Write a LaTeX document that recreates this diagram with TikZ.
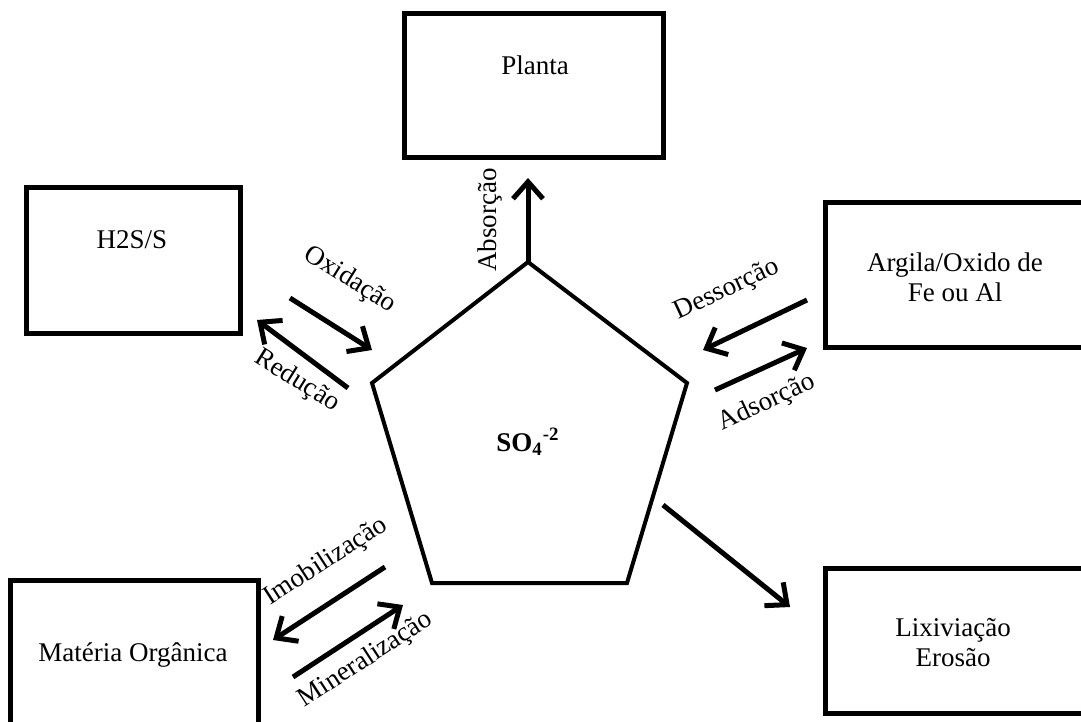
\documentclass[tikz,border=0pt]{standalone}
\usepackage{fontspec}
\setmainfont{Liberation Serif}
\usetikzlibrary{arrows.meta}

\begin{document}
\begin{tikzpicture}[x=0.5pt,y=-0.5pt,
  box/.style={draw,line width=2.5pt,inner sep=0pt},
  seta/.style={line width=2.5pt,-{Straight Barb[length=8.5pt,width=15pt]}},
  txt/.style={font=\fontsize{13.5}{15}\selectfont,align=center,inner sep=0pt}]
\useasboundingbox (0,0) rectangle (1081,722);
\clip (0,0) rectangle (1081,722);

% caixas
\node[box,minimum width=129.5pt,minimum height=71.5pt] (planta)  at (533.5,85.5) {};
\node[box,minimum width=107pt,minimum height=73pt]     (hs)      at (133,260) {};
\node[box,minimum width=135pt,minimum height=72.5pt]   (argila)  at (960,274.5) {};
\node[box,minimum width=124pt,minimum height=72.5pt]   (materia) at (134,652.5) {};
\node[box,minimum width=135pt,minimum height=72.5pt]   (lixi)    at (960,640.5) {};

\node[txt] (plantatxt)  at (535,65)  {Planta};
\node[txt] (hstxt)      at (132,240) {H2S/S};
\node[txt] (argilatxt)  at (955,277) {Argila/Oxido de\\Fe ou Al};
\node[txt] (materiatxt) at (133,655) {Matéria Orgânica};
\node[txt] (lixitxt)    at (953,643) {Lixiviação\\Erosão};

% pentagono
\coordinate (p1) at (528,262);
\coordinate (p2) at (687,383);
\coordinate (p3) at (627,583);
\coordinate (p4) at (432,583);
\coordinate (p5) at (372,383);
\draw[line width=2pt] (p1) -- (p2) -- (p3) -- (p4) -- (p5) -- cycle;
\node[txt,font=\fontsize{13.5}{15}\selectfont\bfseries] (so4) at (528,442) {SO\textsubscript{4}\textsuperscript{-2}};

% setas
\coordinate (ab) at (528,178);
\draw[seta] (p1) -- (ab);
\node[txt,rotate=90] (abtxt) at (490,220) {Absorção};

\coordinate (ox1) at (290,298); \coordinate (ox2) at (372,350);
\draw[seta] (ox1) -- (ox2);
\node[txt,rotate=-32] (oxtxt) at (350,280) {Oxidação};

\coordinate (re1) at (348,388); \coordinate (re2) at (257,320);
\draw[seta] (re1) -- (re2);
\node[txt,rotate=-32] (retxt) at (297,381) {Redução};

\coordinate (de1) at (807,300); \coordinate (de2) at (703,350);
\draw[seta] (de1) -- (de2);
\node[txt,rotate=25] (detxt) at (727,290) {Dessorção};

\coordinate (ad1) at (715,390); \coordinate (ad2) at (807,348);
\draw[seta] (ad1) -- (ad2);
\node[txt,rotate=25] (adtxt) at (767,403) {Adsorção};

\coordinate (im1) at (385,567); \coordinate (im2) at (273,640);
\draw[seta] (im1) -- (im2);
\node[txt,rotate=33] (imtxt) at (326,562) {Imobilização};

\coordinate (mi1) at (293,677); \coordinate (mi2) at (403,605);
\draw[seta] (mi1) -- (mi2);
\node[txt,rotate=33] (mitxt) at (366,660) {Mineralização};

\coordinate (lx1) at (663,505); \coordinate (lx2) at (790,607);
\draw[seta] (lx1) -- (lx2);

\end{tikzpicture}
\end{document}
